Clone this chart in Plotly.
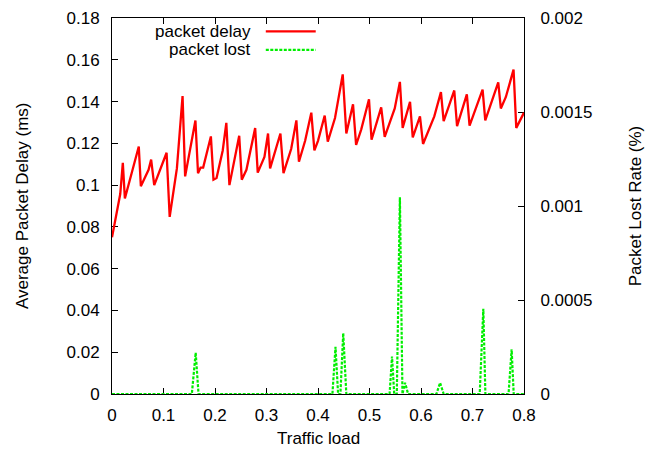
import plotly.graph_objects as go

# ---- data ----
load_delay = [0, 0.016, 0.021, 0.025, 0.052, 0.056, 0.071, 0.076, 0.082, 0.106, 0.112, 0.126,
              0.137, 0.142, 0.162, 0.167, 0.172, 0.177, 0.192, 0.197, 0.203, 0.215, 0.222, 0.228,
              0.247, 0.252, 0.261, 0.278, 0.283, 0.296, 0.303, 0.307, 0.327, 0.333, 0.348, 0.358,
              0.363, 0.375, 0.387, 0.393, 0.400, 0.413, 0.419, 0.433, 0.448, 0.455, 0.468, 0.474,
              0.484, 0.499, 0.504, 0.5227, 0.5295, 0.549, 0.559, 0.5644, 0.5787, 0.584, 0.598,
              0.604, 0.6258, 0.6387, 0.644, 0.6646, 0.670, 0.689, 0.6943, 0.7196, 0.7248, 0.750,
              0.755, 0.7648, 0.7797, 0.785, 0.800]
packet_delay = [0.075, 0.0957, 0.1107, 0.0936, 0.1185, 0.0995, 0.1073, 0.1122, 0.1000, 0.1155,
                0.0848, 0.1080, 0.1426, 0.1042, 0.1309, 0.1057, 0.1084, 0.1084, 0.1233, 0.1026,
                0.1034, 0.1166, 0.1298, 0.1000, 0.1236, 0.1026, 0.1073, 0.1273, 0.1060, 0.1135,
                0.1247, 0.1080, 0.1247, 0.1057, 0.1174, 0.1310, 0.1112, 0.1212, 0.1347, 0.1166,
                0.1212, 0.1333, 0.1208, 0.1321, 0.1530, 0.1247, 0.1387, 0.1192, 0.1267, 0.1411,
                0.1217, 0.1372, 0.1231, 0.1367, 0.1494, 0.1274, 0.1399, 0.1228, 0.1329, 0.1197,
                0.1329, 0.1445, 0.1306, 0.1453, 0.1282, 0.1434, 0.1285, 0.1457, 0.1310, 0.1492,
                0.1367, 0.1422, 0.1553, 0.1274, 0.1347]

load_lost = [0, 0.155, 0.1625, 0.168, 0.428, 0.434, 0.439, 0.4435, 0.449, 0.455, 0.539, 0.5437,
             0.548, 0.553, 0.559, 0.564, 0.569, 0.575, 0.630, 0.637, 0.644, 0.714, 0.721, 0.725,
             0.770, 0.776, 0.780, 0.800]
packet_lost = [0, 0, 0.00022, 0, 0, 0.000251, 0, 0, 0.000323, 0, 0, 0.000199,
               0, 0, 0.001047, 0, 0.00006, 0, 0, 0.00006, 0, 0, 0.000453, 0,
               0, 0.000237, 0, 0]

x_ticks = [0, 0.1, 0.2, 0.3, 0.4, 0.5, 0.6, 0.7, 0.8]
x_tick_text = ["0", "0.1", "0.2", "0.3", "0.4", "0.5", "0.6", "0.7", "0.8"]
y_ticks = [0, 0.02, 0.04, 0.06, 0.08, 0.1, 0.12, 0.14, 0.16, 0.18]
y_tick_text = ["0", "0.02", "0.04", "0.06", "0.08", "0.1", "0.12", "0.14", "0.16", "0.18"]
y2_ticks = [0, 0.0005, 0.001, 0.0015, 0.002]
y2_tick_text = ["0", "0.0005", "0.001", "0.0015", "0.002"]

series_names = ["packet delay", "packet lost"]
RED = "#ff0000"
GREEN = "#00ee00"
FONT = "Liberation Sans"
FS = 17

fig = go.Figure()
fig.add_trace(go.Scatter(x=load_delay, y=packet_delay, mode="lines", name=series_names[0],
                         line=dict(color=RED, width=2.3), yaxis="y", showlegend=False))
fig.add_trace(go.Scatter(x=load_lost, y=packet_lost, mode="lines", name=series_names[1],
                         line=dict(color=GREEN, width=2.2, dash="3px,1.5px"), yaxis="y2",
                         showlegend=False))

axis_common = dict(showline=True, linecolor="black", linewidth=1, ticks="inside", ticklen=6,
                   tickcolor="black", tickwidth=1, showgrid=False, zeroline=False,
                   tickfont=dict(family=FONT, size=FS, color="black"), layer="below traces",
                   ticklabeloverflow="allow")

fig.update_layout(
    width=665, height=456,
    margin=dict(l=112, r=140.5, t=9, b=62),
    paper_bgcolor="white", plot_bgcolor="white",
    font=dict(family=FONT, size=FS, color="black"),
    xaxis=dict(range=[0, 0.8], tickvals=x_ticks, ticktext=x_tick_text, mirror="ticks",
               ticklabelstandoff=6, **axis_common),
    yaxis=dict(range=[0, 0.18], tickvals=y_ticks, ticktext=y_tick_text,
               ticklabelstandoff=8, **axis_common),
    yaxis2=dict(range=[0, 0.002], tickvals=y2_ticks, ticktext=y2_tick_text, overlaying="y",
                side="right", ticklabelstandoff=12, **axis_common),
    showlegend=False,
)

# axis titles
fig.add_annotation(text="Traffic load", xref="paper", yref="paper", x=0.5, y=-0.1195,
                   xanchor="center", yanchor="middle", showarrow=False,
                   font=dict(family=FONT, size=FS))
fig.add_annotation(text="Average Packet Delay (ms)", xref="paper", yref="paper", x=-0.2182, y=0.5,
                   xanchor="center", yanchor="middle", textangle=-90, showarrow=False,
                   font=dict(family=FONT, size=FS))
fig.add_annotation(text="Packet Lost Rate (%)", xref="paper", yref="paper", x=1.2703, y=0.5,
                   xanchor="center", yanchor="middle", textangle=-90, showarrow=False,
                   font=dict(family=FONT, size=FS))

# gnuplot-style key (text right-aligned, sample line to the right)
key_rows = [(0.9644, RED, "solid"), (0.915, GREEN, "3px,1.5px")]
for name, (ky, col, dash) in zip(series_names, key_rows):
    fig.add_annotation(text=name, xref="paper", yref="paper", x=0.3418, y=ky,
                       xanchor="right", yanchor="middle", showarrow=False,
                       font=dict(family=FONT, size=FS))
    fig.add_shape(type="line", xref="paper", yref="paper", x0=0.3733, x1=0.4945, y0=ky, y1=ky,
                  line=dict(color=col, width=2.2, dash=dash))

fig.write_html("out.html", config={"displayModeBar": False},
               post_script="document.body.style.margin='0';")
